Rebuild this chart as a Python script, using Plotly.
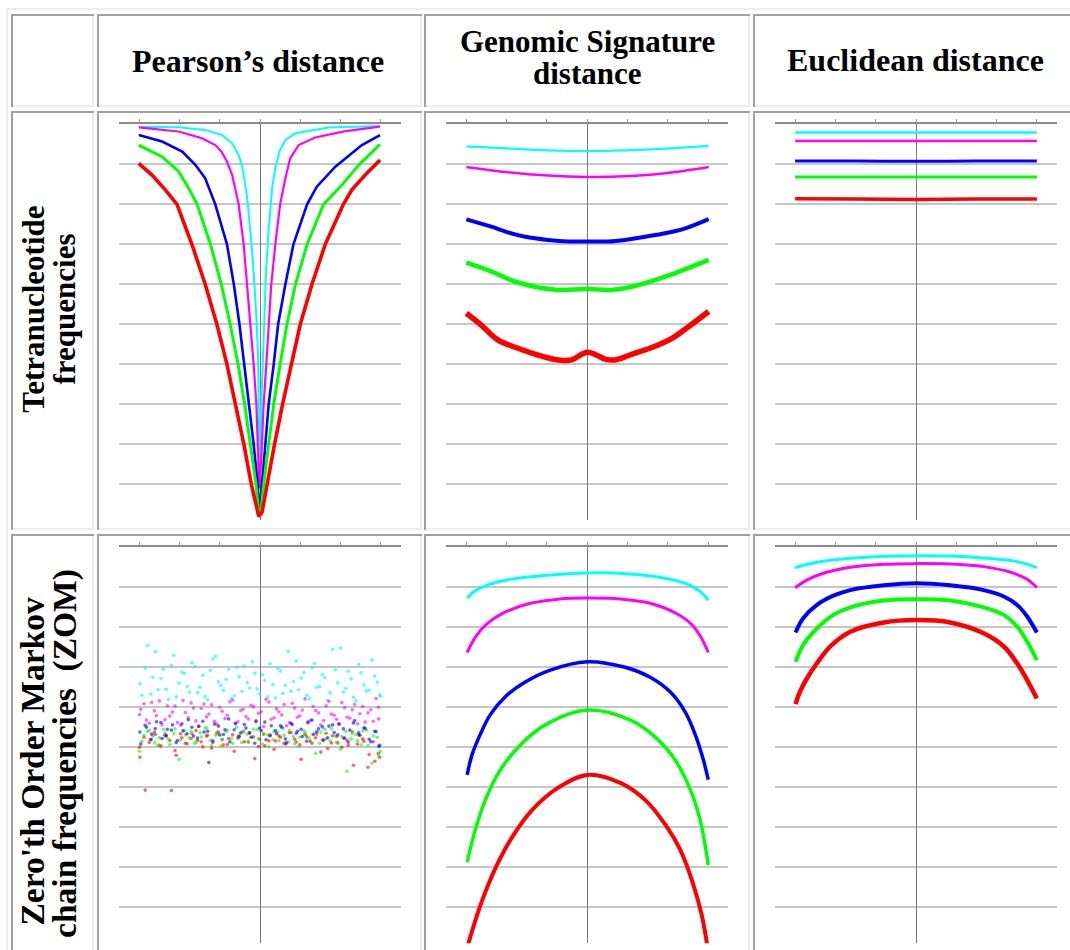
import plotly.graph_objects as go

W, H = 1070, 950

# ---------------- DATA ----------------
# Panel A: Pearson's distance / Tetranucleotide frequencies
PT_CYAN_X = [-3.01, -2.02, -1.36, -0.94, -0.69, -0.53, -0.45, -0.405, -0.35, -0.30, -0.256, -0.223, -0.18, -0.149, -0.116, -0.083, -0.05, -0.025, -0.008,
             0.033, 0.074, 0.116, 0.15, 0.2, 0.256, 0.30, 0.38, 0.48, 0.63, 0.88, 1.70, 2.98]
PT_CYAN_Y = [-0.06, -0.075, -0.14, -0.27, -0.475, -0.77, -1.02, -1.27, -1.6, -2.02, -2.43, -2.85, -3.35, -3.85, -4.35, -4.93, -5.77, -7.0, -8.7,
             -7.0, -5.77, -4.52, -3.68, -2.85, -2.02, -1.6, -1.1, -0.68, -0.39, -0.225, -0.08, -0.04]
PT_MAGENTA_X = [-3.01, -2.02, -1.44, -1.11, -0.96, -0.82, -0.69, -0.61, -0.53, -0.405, -0.32, -0.24, -0.157, -0.09, -0.05, -0.017,
                0.033, 0.09, 0.157, 0.215, 0.28, 0.38, 0.50, 0.63, 0.75, 0.96, 1.37, 2.12, 2.98]
PT_MAGENTA_Y = [-0.075, -0.18, -0.35, -0.52, -0.68, -0.93, -1.27, -1.6, -2.0, -3.0, -4.0, -5.0, -6.0, -7.0, -8.0, -9.1,
                -8.3, -7.0, -6.0, -5.0, -4.0, -3.0, -2.0, -1.35, -0.85, -0.52, -0.33, -0.17, -0.06]
PT_BLUE_X = [-3.01, -2.43, -1.93, -1.60, -1.36, -1.19, -1.11, -0.82, -0.65, -0.51, -0.39, -0.28, -0.157, -0.058, -0.017,
             0.05, 0.13, 0.215, 0.34, 0.45, 0.63, 0.83, 1.17, 1.41, 1.87, 2.53, 2.98]
PT_BLUE_Y = [-0.27, -0.43, -0.68, -1.02, -1.35, -1.77, -2.0, -3.0, -4.0, -5.0, -6.0, -7.0, -8.0, -9.0, -9.7,
             -9.0, -8.0, -7.0, -6.0, -5.0, -4.0, -3.0, -2.0, -1.56, -1.06, -0.52, -0.27]
PT_GREEN_X = [-3.01, -2.43, -2.02, -1.77, -1.56, -1.23, -0.96, -0.74, -0.545, -0.38, -0.24, -0.10, -0.033,
              0.025, 0.09, 0.21, 0.34, 0.50, 0.67, 0.88, 1.17, 1.58, 2.03, 2.45, 2.98]
PT_GREEN_Y = [-0.52, -0.81, -1.18, -1.6, -2.0, -3.0, -4.0, -5.0, -6.0, -7.0, -8.0, -9.0, -9.7,
              -9.7, -9.0, -8.0, -7.0, -6.0, -5.0, -4.0, -3.0, -2.0, -1.52, -1.02, -0.5]
PT_RED_X = [-3.01, -2.68, -2.35, -2.06, -1.69, -1.36, -1.07, -0.82, -0.61, -0.40, -0.215, -0.074, -0.03,
            0.05, 0.17, 0.36, 0.56, 0.78, 1.0, 1.29, 1.62, 2.07, 2.28, 2.61, 2.98]
PT_RED_Y = [-0.975, -1.27, -1.64, -2.0, -3.0, -4.0, -5.0, -6.0, -7.0, -8.0, -9.0, -9.6, -9.8,
            -9.7, -9.0, -8.0, -7.0, -6.0, -5.0, -4.0, -3.0, -2.0, -1.64, -1.27, -0.89]

# Panel B: Genomic Signature distance / Tetranucleotide frequencies
GT_CM_X = [-3.0, -1.97, -0.97, 0.0, 0.94, 1.93, 3.01]
GT_CYAN_Y = [-0.55, -0.6, -0.65, -0.667, -0.65, -0.61, -0.54]
GT_MAGENTA_Y = [-1.067, -1.2, -1.283, -1.317, -1.3, -1.225, -1.067]
GT_BLUE_X = [-3.0, -2.38, -1.97, -1.54, -0.97, -0.47, 0.0, 0.52, 0.94, 1.44, 1.93, 2.43, 3.01]
GT_BLUE_Y = [-2.375, -2.56, -2.7, -2.81, -2.89, -2.93, -2.93, -2.93, -2.89, -2.81, -2.725, -2.6, -2.37]
GT_GREEN_X = [-3.0, -2.38, -1.8, -1.3, -0.72, 0.0, 0.6, 1.1, 1.6, 2.18, 3.01]
GT_GREEN_Y = [-3.46, -3.68, -3.93, -4.06, -4.14, -4.12, -4.14, -4.06, -3.92, -3.72, -3.39]
GT_RED_X = [-3.0, -2.63, -2.22, -1.72, -1.22, -0.72, -0.39, -0.14, 0.0, 0.19, 0.44, 0.69, 1.1, 1.6, 2.1, 2.51, 3.01]
GT_RED_Y = [-4.725, -5.02, -5.39, -5.6, -5.77, -5.89, -5.89, -5.75, -5.7, -5.75, -5.87, -5.89, -5.75, -5.58, -5.35, -5.06, -4.68]

# Panel C: Euclidean distance / Tetranucleotide frequencies
ET_X = [-3.0, -1.5, 0.0, 1.5, 3.0]
ET_CYAN_Y = [-0.205, -0.205, -0.205, -0.205, -0.205]
ET_MAGENTA_Y = [-0.415, -0.415, -0.415, -0.415, -0.415]
ET_BLUE_Y = [-0.92, -0.92, -0.925, -0.92, -0.92]
ET_GREEN_Y = [-1.32, -1.32, -1.32, -1.32, -1.32]
ET_RED_Y = [-1.86, -1.87, -1.88, -1.87, -1.87]

# Panel D: Pearson's distance / ZOM (scatter cloud)
CLOUD_XA = [-2.98, -2.85, -2.71, -2.6, -2.46, -2.33, -2.2, -2.08, -1.94, -1.81, -1.69, -1.55, -1.42, -1.3, -1.17, -1.03,
            -0.91, -0.78, -0.64, -0.52, -0.39, -0.26, -0.13, -0.01, 0.12, 0.25, 0.38, 0.51, 0.63, 0.77, 0.9, 1.02,
            1.16, 1.29, 1.41, 1.55, 1.68, 1.8, 1.93, 2.07, 2.19, 2.32, 2.45, 2.58, 2.71, 2.85, 2.97]
CLOUD_XB = [-2.93, -2.79, -2.66, -2.53, -2.4, -2.27, -2.14, -2.01, -1.88, -1.75, -1.62, -1.49, -1.36, -1.23, -1.1, -0.97,
            -0.84, -0.71, -0.58, -0.45, -0.32, -0.19, -0.07, 0.06, 0.19, 0.32, 0.44, 0.57, 0.7, 0.83, 0.96, 1.09,
            1.22, 1.35, 1.48, 1.61, 1.74, 1.87, 2.0, 2.13, 2.26, 2.38, 2.51, 2.64, 2.78, 2.91, 2.99]
CLOUD_XC = [-2.96, -2.82, -2.69, -2.57, -2.43, -2.3, -2.17, -2.05, -1.91, -1.78, -1.65, -1.52, -1.39, -1.27, -1.13, -1.0,
            -0.87, -0.75, -0.61, -0.48, -0.35, -0.22, -0.1, 0.03, 0.15, 0.28, 0.41, 0.54, 0.66, 0.8, 0.93, 1.05,
            1.19, 1.32, 1.45, 1.58, 1.71, 1.84, 1.96, 2.1, 2.23, 2.35, 2.48, 2.61, 2.75, 2.88, 2.95]
CLOUD_XD = [-2.99, -2.88, -2.75, -2.62, -2.5, -2.36, -2.24, -2.11, -1.97, -1.85, -1.71, -1.59, -1.46, -1.33, -1.2, -1.07,
            -0.94, -0.81, -0.68, -0.55, -0.42, -0.29, -0.16, -0.04, 0.09, 0.22, 0.35, 0.47, 0.6, 0.73, 0.86, 0.99,
            1.12, 1.25, 1.38, 1.51, 1.64, 1.77, 1.9, 2.03, 2.16, 2.29, 2.42, 2.55, 2.68, 2.81, 2.94]
CLOUD_CYAN_YA = [-3.41, -3.02, -3.67, -2.61, -3.28, -3.55, -2.95, -3.74, -3.12, -3.48, -2.88, -3.63, -3.2, -3.81, -2.79, -3.36,
                 -3.58, -3.05, -3.71, -3.24, -2.97, -3.52, -3.15, -3.66, -3.33, -2.91, -3.77, -3.09, -3.45, -3.6, -2.84, -3.27,
                 -3.7, -3.01, -3.5, -3.18, -3.83, -2.55, -3.39, -3.62, -3.1, -3.75, -2.93, -3.44, -3.57, -3.22, -3.69]
CLOUD_CYAN_YB = [-3.7, -2.45, -3.25, -3.56, -3.05, -3.8, -2.7, -3.4, -3.15, -3.62, -2.98, -3.5, -3.73, -3.08, -2.72, -3.46,
                 -3.3, -3.78, -3.0, -3.6, -3.38, -2.86, -3.54, -3.19, -3.74, -3.43, -3.03, -3.65, -2.6, -3.35, -3.56, -3.13,
                 -3.79, -2.9, -3.48, -3.26, -3.64, -3.06, -2.52, -3.53, -3.29, -3.84, -3.14, -3.59, -2.82, -3.37, -3.72]
CLOUD_MAGENTA_YC = [-4.05, -4.32, -3.88, -4.21, -4.44, -3.96, -4.12, -4.38, -3.83, -4.26, -4.02, -4.47, -3.92, -4.17, -4.35, -4.0,
                    -4.28, -3.86, -4.41, -4.08, -4.23, -3.95, -4.36, -4.11, -3.8, -4.3, -4.04, -4.19, -4.46, -3.9, -4.25, -4.07,
                    -4.39, -3.98, -4.14, -4.33, -3.85, -4.2, -4.43, -4.01, -4.27, -3.93, -4.16, -4.37, -4.06, -3.78, -4.29]
CLOUD_MAGENTA_YD = [-4.18, -3.91, -4.4, -4.09, -3.84, -4.31, -4.22, -3.97, -4.45, -4.13, -3.89, -4.34, -4.03, -4.24, -3.94, -4.42,
                    -4.1, -4.2, -3.82, -4.36, -4.05, -4.29, -3.99, -4.15, -4.48, -3.87, -4.26, -4.11, -3.93, -4.38, -4.02, -4.21,
                    -3.79, -4.33, -4.08, -4.44, -3.96, -4.17, -4.3, -3.88, -4.25, -4.06, -4.41, -3.98, -4.14, -4.35, -4.0]
CLOUD_BLUE_YA = [-4.62, -4.45, -4.81, -4.53, -4.38, -4.7, -4.57, -4.88, -4.41, -4.66, -4.5, -4.77, -4.35, -4.6, -4.84, -4.47,
                 -4.68, -4.29, -4.56, -4.74, -4.43, -4.63, -4.9, -4.52, -4.37, -4.71, -4.58, -4.46, -4.79, -4.4, -4.65, -4.55,
                 -4.85, -4.32, -4.61, -4.49, -4.76, -4.44, -4.69, -4.54, -4.87, -4.39, -4.64, -4.51, -4.8, -4.6, -4.95]
CLOUD_BLUE_YC = [-4.92, -4.5, -4.67, -4.36, -4.78, -4.55, -4.44, -4.83, -4.59, -4.31, -4.72, -4.48, -4.62, -5.38, -4.42, -4.69,
                 -4.56, -4.86, -4.4, -4.64, -4.52, -4.75, -4.34, -4.58, -4.81, -4.46, -4.66, -4.5, -4.89, -4.43, -4.6, -4.73,
                 -4.37, -4.68, -4.54, -4.82, -4.47, -4.63, -4.41, -4.77, -4.57, -4.33, -4.7, -4.53, -4.86, -4.61, -4.98]
CLOUD_GREEN_YB = [-4.85, -4.6, -4.72, -4.95, -4.55, -4.8, -4.66, -5.3, -4.58, -4.76, -4.9, -4.63, -4.52, -4.83, -4.7, -4.97,
                  -4.61, -4.78, -4.5, -4.88, -4.67, -4.74, -4.56, -4.92, -4.69, -4.81, -4.62, -4.53, -4.86, -4.73, -4.98, -4.59,
                  -4.77, -4.65, -4.9, -4.55, -4.84, -4.71, -5.05, -4.6, -4.79, -4.68, -4.94, -4.57, -5.4, -4.75, -5.1]
CLOUD_GREEN_YD = [-5.1, -4.7, -4.58, -4.89, -4.76, -4.64, -4.93, -4.54, -4.82, -4.69, -4.6, -4.87, -4.74, -4.51, -4.96, -4.66,
                  -4.8, -4.57, -4.9, -4.72, -4.63, -4.85, -4.55, -4.78, -4.67, -4.99, -4.61, -4.83, -4.7, -4.58, -4.91, -4.75,
                  -4.64, -4.86, -5.15, -4.62, -4.79, -4.53, -4.88, -4.73, -5.6, -4.66, -4.84, -4.59, -4.95, -4.71, -5.2]
CLOUD_RED_YD = [-5.0, -4.75, -4.88, -4.62, -4.95, -4.7, -4.83, -5.08, -4.66, -4.9, -4.78, -4.58, -4.86, -4.72, -5.02, -4.64,
                -4.81, -4.93, -4.69, -4.77, -4.6, -4.87, -4.74, -4.98, -4.67, -4.84, -5.05, -4.71, -4.9, -4.63, -4.8, -4.94,
                -4.68, -4.85, -4.76, -5.12, -4.65, -4.89, -4.73, -5.0, -4.82, -4.61, -4.92, -4.79, -5.5, -4.86, -5.15]
CLOUD_RED_YA = [-5.25, -6.07, -4.8, -4.68, -4.97, -4.73, -6.08, -5.2, -4.76, -4.91, -4.66, -4.83, -4.99, -4.7, -4.88, -4.62,
                -4.94, -4.78, -5.1, -4.72, -4.86, -4.65, -5.28, -4.8, -4.96, -4.69, -4.84, -4.75, -4.92, -4.63, -4.87, -5.3,
                -4.74, -4.9, -4.67, -4.82, -5.03, -4.71, -4.89, -4.77, -4.95, -5.45, -4.69, -4.85, -5.18, -5.35, -5.25]

# Panel E: Genomic Signature distance / ZOM
GZ_CYAN_X = [-2.98, -2.8, -2.5, -1.91, -0.92, 0.0, 1.07, 2.06, 2.55, 2.82, 3.0]
GZ_CYAN_Y = [-1.27, -1.1, -0.95, -0.8, -0.69, -0.64, -0.67, -0.8, -0.95, -1.12, -1.32]
GZ_MAGENTA_X = [-2.98, -2.78, -2.5, -2.1, -1.41, -0.67, 0.0, 0.82, 1.56, 2.2, 2.58, 2.82, 3.0]
GZ_MAGENTA_Y = [-2.63, -2.25, -1.92, -1.65, -1.4, -1.29, -1.27, -1.29, -1.4, -1.65, -1.92, -2.25, -2.63]
GZ_BLUE_X = [-2.98, -2.86, -2.66, -2.41, -2.04, -1.54, -0.92, 0.0, 0.94, 1.56, 2.06, 2.43, 2.68, 2.88, 3.0]
GZ_BLUE_Y = [-5.69, -5.19, -4.69, -4.19, -3.74, -3.37, -3.07, -2.86, -3.0, -3.25, -3.62, -4.12, -4.69, -5.32, -5.81]
GZ_GREEN_X = [-2.98, -2.78, -2.53, -2.16, -1.66, -1.04, 0.0, 1.07, 1.68, 2.18, 2.56, 2.8, 3.0]
GZ_GREEN_Y = [-7.87, -7.07, -6.32, -5.57, -4.94, -4.44, -4.07, -4.32, -4.74, -5.32, -6.07, -6.82, -7.94]
GZ_RED_X = [-2.97, -2.8, -2.56, -2.24, -1.86, -1.36, -0.74, 0.0, 0.82, 1.44, 1.94, 2.31, 2.62, 2.84, 2.98]
GZ_RED_Y = [-9.98, -9.4, -8.7, -7.94, -7.24, -6.56, -6.02, -5.69, -5.89, -6.32, -6.94, -7.57, -8.4, -9.2, -9.98]

# Panel F: Euclidean distance / ZOM
EZ_CYAN_X = [-3.0, -2.46, -1.63, -0.8, 0.0, 0.85, 1.68, 2.51, 3.0]
EZ_CYAN_Y = [-0.51, -0.375, -0.275, -0.225, -0.21, -0.217, -0.267, -0.358, -0.51]
EZ_MAGENTA_X = [-3.0, -2.71, -2.3, -1.63, -0.8, 0.0, 0.85, 1.68, 2.35, 2.76, 3.0]
EZ_MAGENTA_Y = [-1.01, -0.82, -0.65, -0.5, -0.425, -0.408, -0.417, -0.483, -0.625, -0.8, -1.01]
EZ_BG_X = [-2.99, -2.8, -2.46, -2.05, -1.63, -0.8, 0.0, 0.85, 1.68, 2.18, 2.51, 2.76, 3.0]
EZ_BLUE_Y = [-2.13, -1.775, -1.44, -1.21, -1.07, -0.95, -0.9, -0.95, -1.07, -1.23, -1.44, -1.73, -2.13]
EZ_GREEN_Y = [-2.86, -2.44, -2.03, -1.69, -1.5, -1.33, -1.3, -1.33, -1.5, -1.69, -1.98, -2.36, -2.82]
EZ_RED_X = [-2.99, -2.88, -2.71, -2.46, -2.13, -1.63, -0.8, 0.0, 0.85, 1.68, 2.18, 2.51, 2.76, 3.0]
EZ_RED_Y = [-3.92, -3.61, -3.28, -2.9, -2.48, -2.11, -1.88, -1.82, -1.88, -2.15, -2.48, -2.9, -3.32, -3.78]

COL_HEADERS = ["Pearson\u2019s distance", "Genomic Signature", "distance", "Euclidean distance"]
ROW_HEADERS = ["Tetranucleotide", "frequencies", "Zero'th Order Markov", "chain frequencies\u00a0 (ZOM)"]

CYAN, MAGENTA, BLUE, GREEN, RED = "#00ffff", "#ff00ff", "#0000ff", "#00ff00", "#ff0000"

# ---------------- FIGURE ----------------
fig = go.Figure()


def px(x):
    return x / W


def py(y):
    return 1 - y / H


# plot-area geometry (pixels)
col_px = [(119, 401), (446.2, 728.4), (775, 1057)]
row_px = [(124.3, 520.3), (547.3, 943.3)]

layout_axes = {}
k = 0
for r, (t, b) in enumerate(row_px):
    for c, (l, rr) in enumerate(col_px):
        k += 1
        sx = "" if k == 1 else str(k)
        layout_axes["xaxis" + sx] = dict(
            domain=[px(l), px(rr)], range=[-3.5, 3.5], anchor="y" + sx, side="top",
            showline=True, linecolor="#8a8a8a", linewidth=1.5,
            ticks="outside", ticklen=4, tickcolor="#9a9a9a", tickwidth=1,
            tick0=0, dtick=1, showticklabels=False, showgrid=False,
            zeroline=True, zerolinecolor="#7a7a7a", zerolinewidth=1, fixedrange=True)
        layout_axes["yaxis" + sx] = dict(
            domain=[py(b), py(t)], range=[-9.9, 0], anchor="x" + sx,
            showgrid=True, gridcolor="#c6c6c6", gridwidth=1.6, tick0=0, dtick=1,
            showticklabels=False, ticks="", zeroline=False, showline=False, fixedrange=True)


def line(xs, ys, color, width, ax, shape="spline"):
    fig.add_trace(go.Scatter(x=xs, y=ys, mode="lines", line=dict(color=color, width=width, shape=shape, smoothing=1.0),
                             xaxis="x" + ax, yaxis="y" + ax, showlegend=False, hoverinfo="skip"))


def dots(xs, ys, color, ax, op=0.6):
    fig.add_trace(go.Scatter(x=xs, y=ys, mode="markers", marker=dict(color=color, size=3.6, opacity=op),
                             xaxis="x" + ax, yaxis="y" + ax, showlegend=False, hoverinfo="skip"))


# Panel A
line(PT_CYAN_X, PT_CYAN_Y, CYAN, 2, "", "linear")
line(PT_MAGENTA_X, PT_MAGENTA_Y, MAGENTA, 2.2, "", "linear")
line(PT_BLUE_X, PT_BLUE_Y, BLUE, 2.6, "", "linear")
line(PT_GREEN_X, PT_GREEN_Y, GREEN, 3, "", "linear")
line(PT_RED_X, PT_RED_Y, RED, 3.6, "", "linear")
# Panel B
line(GT_CM_X, GT_CYAN_Y, CYAN, 2.2, "2")
line(GT_CM_X, GT_MAGENTA_Y, MAGENTA, 2.5, "2")
line(GT_BLUE_X, GT_BLUE_Y, BLUE, 4, "2")
line(GT_GREEN_X, GT_GREEN_Y, GREEN, 4.5, "2")
line(GT_RED_X, GT_RED_Y, RED, 5.5, "2")
# Panel C
line(ET_X, ET_CYAN_Y, CYAN, 2.5, "3")
line(ET_X, ET_MAGENTA_Y, MAGENTA, 2.5, "3")
line(ET_X, ET_BLUE_Y, BLUE, 3, "3")
line(ET_X, ET_GREEN_Y, GREEN, 3, "3")
line(ET_X, ET_RED_Y, RED, 3.5, "3")
# Panel D
dots(CLOUD_XA, CLOUD_CYAN_YA, CYAN, "4", 0.65)
dots(CLOUD_XB, CLOUD_CYAN_YB, CYAN, "4", 0.65)
dots(CLOUD_XC, CLOUD_MAGENTA_YC, MAGENTA, "4", 0.6)
dots(CLOUD_XD, CLOUD_MAGENTA_YD, MAGENTA, "4", 0.6)
dots(CLOUD_XD, CLOUD_RED_YD, RED, "4", 0.6)
dots(CLOUD_XA, CLOUD_RED_YA, RED, "4", 0.6)
dots(CLOUD_XB, CLOUD_GREEN_YB, GREEN, "4", 0.6)
dots(CLOUD_XD, CLOUD_GREEN_YD, GREEN, "4", 0.6)
dots(CLOUD_XA, CLOUD_BLUE_YA, BLUE, "4", 0.6)
dots(CLOUD_XC, CLOUD_BLUE_YC, BLUE, "4", 0.6)
# Panel E
line(GZ_CYAN_X, GZ_CYAN_Y, CYAN, 3, "5")
line(GZ_MAGENTA_X, GZ_MAGENTA_Y, MAGENTA, 3, "5")
line(GZ_BLUE_X, GZ_BLUE_Y, BLUE, 3.5, "5")
line(GZ_GREEN_X, GZ_GREEN_Y, GREEN, 3.5, "5")
line(GZ_RED_X, GZ_RED_Y, RED, 4, "5")
# Panel F
line(EZ_CYAN_X, EZ_CYAN_Y, CYAN, 3, "6")
line(EZ_MAGENTA_X, EZ_MAGENTA_Y, MAGENTA, 3, "6")
line(EZ_BG_X, EZ_BLUE_Y, BLUE, 4, "6")
line(EZ_BG_X, EZ_GREEN_Y, GREEN, 4, "6")
line(EZ_RED_X, EZ_RED_Y, RED, 4.5, "6")

# ---------------- TABLE BORDERS ----------------
DARK, LIGHT = "#a0a0a0", "#ededed"
shapes = []


def seg(x0, y0, x1, y1, color, w=2):
    shapes.append(dict(type="line", xref="paper", yref="paper", x0=px(x0), y0=py(y0), x1=px(x1), y1=py(y1),
                       line=dict(color=color, width=w), layer="below"))


seg(6, 9, 1090, 9, LIGHT)
seg(7, 8, 7, 980, LIGHT)
cols = [(11, 94), (97, 422), (424, 750), (753, 1090)]
rows = [(14, 107), (111, 530), (534, 980)]
for (y0, y1) in rows:
    for (x0, x1) in cols:
        seg(x0, y1 - 1, x1, y1 - 1, LIGHT)
        seg(x1 - 1, y0, x1 - 1, y1, LIGHT)
        seg(x0, y0 + 1, x1, y0 + 1, DARK)
        seg(x0 + 1, y0, x0 + 1, y1, DARK)

# ---------------- TEXT ----------------
FONT = "Liberation Serif, Times New Roman, serif"
annotations = []


def txt(s, x, y, size, angle=0):
    annotations.append(dict(text="<b>" + s + "</b>", x=px(x), y=py(y), xref="paper", yref="paper",
                            showarrow=False, xanchor="center", yanchor="middle", textangle=angle,
                            borderpad=0, font=dict(family=FONT, size=size, color="black")))


txt(COL_HEADERS[0], 258, 60.5, 32)
txt(COL_HEADERS[1], 587, 41.5, 31)
txt(COL_HEADERS[2], 587, 73.5, 31)
txt(COL_HEADERS[3], 915, 60, 32)
txt(ROW_HEADERS[0], 32.7, 309, 31, -90)
txt(ROW_HEADERS[1], 63.5, 309, 31, -90)
txt(ROW_HEADERS[2], 32, 761.5, 33.5, -90)
txt(ROW_HEADERS[3], 64.4, 753.5, 33.5, -90)

fig.update_layout(width=W, height=H, margin=dict(l=0, r=0, t=0, b=0), autosize=False,
                  paper_bgcolor="white", plot_bgcolor="white", showlegend=False,
                  shapes=shapes, annotations=annotations, **layout_axes)

fig.write_html("out.html", config={"displayModeBar": False})
